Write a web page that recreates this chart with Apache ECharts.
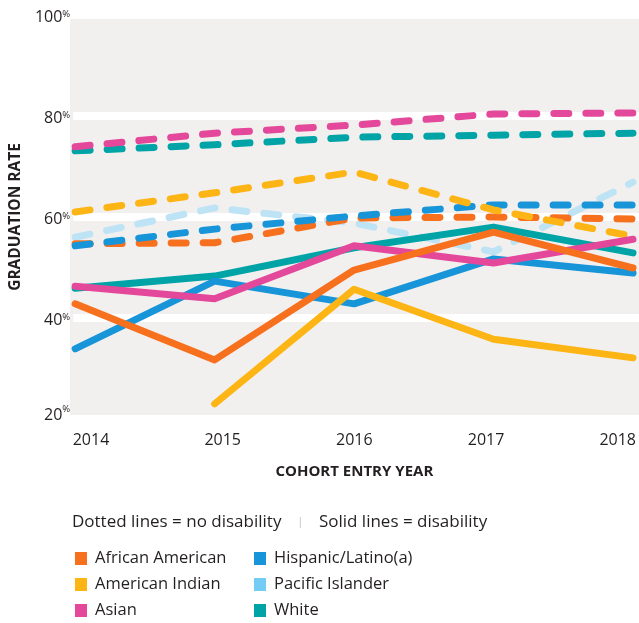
<!DOCTYPE html>
<html><head><meta charset="utf-8">
<script src="https://cdn.jsdelivr.net/npm/echarts@6/dist/echarts.min.js"></script>
<style>html,body{margin:0;padding:0;background:#fff}#c{width:639px;height:623px}</style>
</head><body><div id="c"></div>
<script>
const years = [2014, 2015, 2016, 2017, 2018];
const yTicks = [20, 40, 60, 80, 100];
const groupNames = ['African American', 'American Indian', 'Asian', 'Hispanic/Latino(a)', 'Pacific Islander', 'White'];
const groupColors = ['#F7701E', '#FDB515', '#E4489A', '#1895D8', '#73CDF4', '#00A4A7'];
// No disability (dashed lines)
const aaNo = [54.7, 54.9, 59.8, 60.0, 59.6];
const aiNo = [61.0, 64.8, 68.9, 61.4, 56.2];
const asNo = [73.9, 76.6, 78.2, 80.4, 80.6];
const hlNo = [54.3, 57.6, 60.2, 62.4, 62.4];
const piNo = [56.0, 61.8, 58.8, 53.1, 66.9];
const whNo = [73.1, 74.3, 75.8, 76.2, 76.6];
// Disability (solid lines)
const aaDis = [42.8, 31.7, 49.5, 57.0, 49.9];
const aiDis = [null, 23.0, 45.7, 35.8, 32.1];
const asDis = [46.3, 43.8, 54.3, 50.9, 55.6];
const hlDis = [33.9, 47.3, 42.8, 51.7, 48.9];
const whDis = [45.9, 48.3, 53.9, 58.0, 52.9];

const FONT = 'Open Sans';
const TXT = '#231f20';
const pairs = arr => years.map((y, i) => [y, arr[i]]).filter(p => p[1] !== null);

function dashed(name, data, color, z) {
  return {
    name, type: 'line', xAxisIndex: 1, yAxisIndex: 1, data: pairs(data),
    showSymbol: false, symbol: 'none', z: z, silent: true,
    itemStyle: { color: groupColors[groupNames.indexOf(name)] },
    lineStyle: { color, width: 7, type: [15, 17], cap: 'round', join: 'round' }
  };
}
function solid(name, data, color, z) {
  return {
    name, type: 'line', xAxisIndex: 1, yAxisIndex: 1, data: pairs(data),
    showSymbol: false, symbol: 'none', z: z, silent: true,
    itemStyle: { color },
    lineStyle: { color, width: 7, type: 'solid', cap: 'round', join: 'round' }
  };
}

const series = [
  dashed('Pacific Islander', piNo, '#BEE3F5', 2),
  dashed('African American', aaNo, groupColors[0], 3),
  dashed('Hispanic/Latino(a)', hlNo, groupColors[3], 3),
  dashed('American Indian', aiNo, groupColors[1], 3),
  dashed('White', whNo, groupColors[5], 3),
  dashed('Asian', asNo, groupColors[2], 3),
  solid('White', whDis, groupColors[5], 4),
  solid('Hispanic/Latino(a)', hlDis, groupColors[3], 4),
  solid('American Indian', aiDis, groupColors[1], 4),
  solid('Asian', asDis, groupColors[2], 4),
  solid('African American', aaDis, groupColors[0], 4)
];

const legendItem = n => ({ name: n, itemStyle: { color: groupColors[groupNames.indexOf(n)], borderWidth: 0 } });
const legendBase = {
  orient: 'vertical', icon: 'rect', itemWidth: 12, itemHeight: 13, itemGap: 9,
  top: 550, padding: 0, height: 73, selectedMode: false,
  itemStyle: { borderWidth: 0 },
  textStyle: { fontFamily: FONT, fontSize: 16.5, lineHeight: 16, color: TXT, padding: [0, 0, 0, 3] }
};

const chart = echarts.init(document.getElementById('c'), null, { renderer: 'canvas' });
chart.setOption({
  animation: false,
  backgroundColor: '#ffffff',
  title: {
    text: 'Dotted lines = no disability{s||}Solid lines = disability',
    left: 67, top: 509,
    textStyle: {
      fontFamily: FONT, fontSize: 17, fontWeight: 'normal', color: TXT,
      rich: { s: { fontFamily: FONT, fontSize: 10, color: '#b8b8b8', padding: [0, 16, 0, 16] } }
    }
  },
  legend: [
    Object.assign({}, legendBase, { left: 75, data: groupNames.slice(0, 3).map(legendItem) }),
    Object.assign({}, legendBase, { left: 254, data: groupNames.slice(3).map(legendItem) })
  ],
  grid: [
    { left: 70, right: 0, top: 19, bottom: 208, show: true, backgroundColor: '#F2F0EF', borderWidth: 0, z: -1 },
    { left: 70, right: 0, top: 15, bottom: 204, show: false },
    { left: 91, right: 20, top: 15, bottom: 204, show: false }
  ],
  xAxis: [
    { gridIndex: 0, type: 'value', show: false, min: 0, max: 1 },
    { gridIndex: 1, type: 'value', min: 2013.986, max: 2018.043, show: false, splitLine: { show: false } },
    {
      gridIndex: 2, type: 'category', boundaryGap: false, data: years.map(String),
      axisLine: { show: false }, axisTick: { show: false }, splitLine: { show: false },
      axisLabel: { margin: 13, fontFamily: FONT, fontSize: 16, color: TXT },
      name: 'COHORT ENTRY YEAR', nameLocation: 'middle', nameGap: 45,
      nameTextStyle: { fontFamily: FONT, fontSize: 15, fontWeight: 'bold', color: TXT }
    }
  ],
  yAxis: [
    { gridIndex: 0, type: 'value', show: false, min: 0, max: 1 },
    {
      gridIndex: 1, type: 'value', min: yTicks[0], max: yTicks[yTicks.length - 1], interval: 20,
      axisLine: { show: false }, axisTick: { show: false },
      splitLine: { show: true, showMinLine: false, showMaxLine: false, lineStyle: { color: '#ffffff', width: 8 } },
      axisLabel: {
        margin: 3, padding: [5, 0, 0, 0],
        formatter: v => v === yTicks[0] ? '{m|' + v + '}{q|%}' : '{n|' + v + '}{p|%}',
        rich: {
          n: { fontFamily: FONT, fontSize: 16, color: TXT },
          p: { fontFamily: FONT, fontSize: 9.5, color: TXT, padding: [0, 0, 6, 0] },
          m: { fontFamily: FONT, fontSize: 16, color: TXT, padding: [0, 0, 12, 0] },
          q: { fontFamily: FONT, fontSize: 9.5, color: TXT, padding: [0, 0, 24, 0] }
        }
      },
      name: 'GRADUATION RATE', nameLocation: 'middle', nameRotate: 90, nameGap: 44,
      nameTextStyle: { fontFamily: FONT, fontSize: 15.5, fontWeight: 'bold', color: TXT }
    },
    { gridIndex: 2, type: 'value', show: false, min: 0, max: 1 }
  ],
  series: series
});
</script>
</body></html>
